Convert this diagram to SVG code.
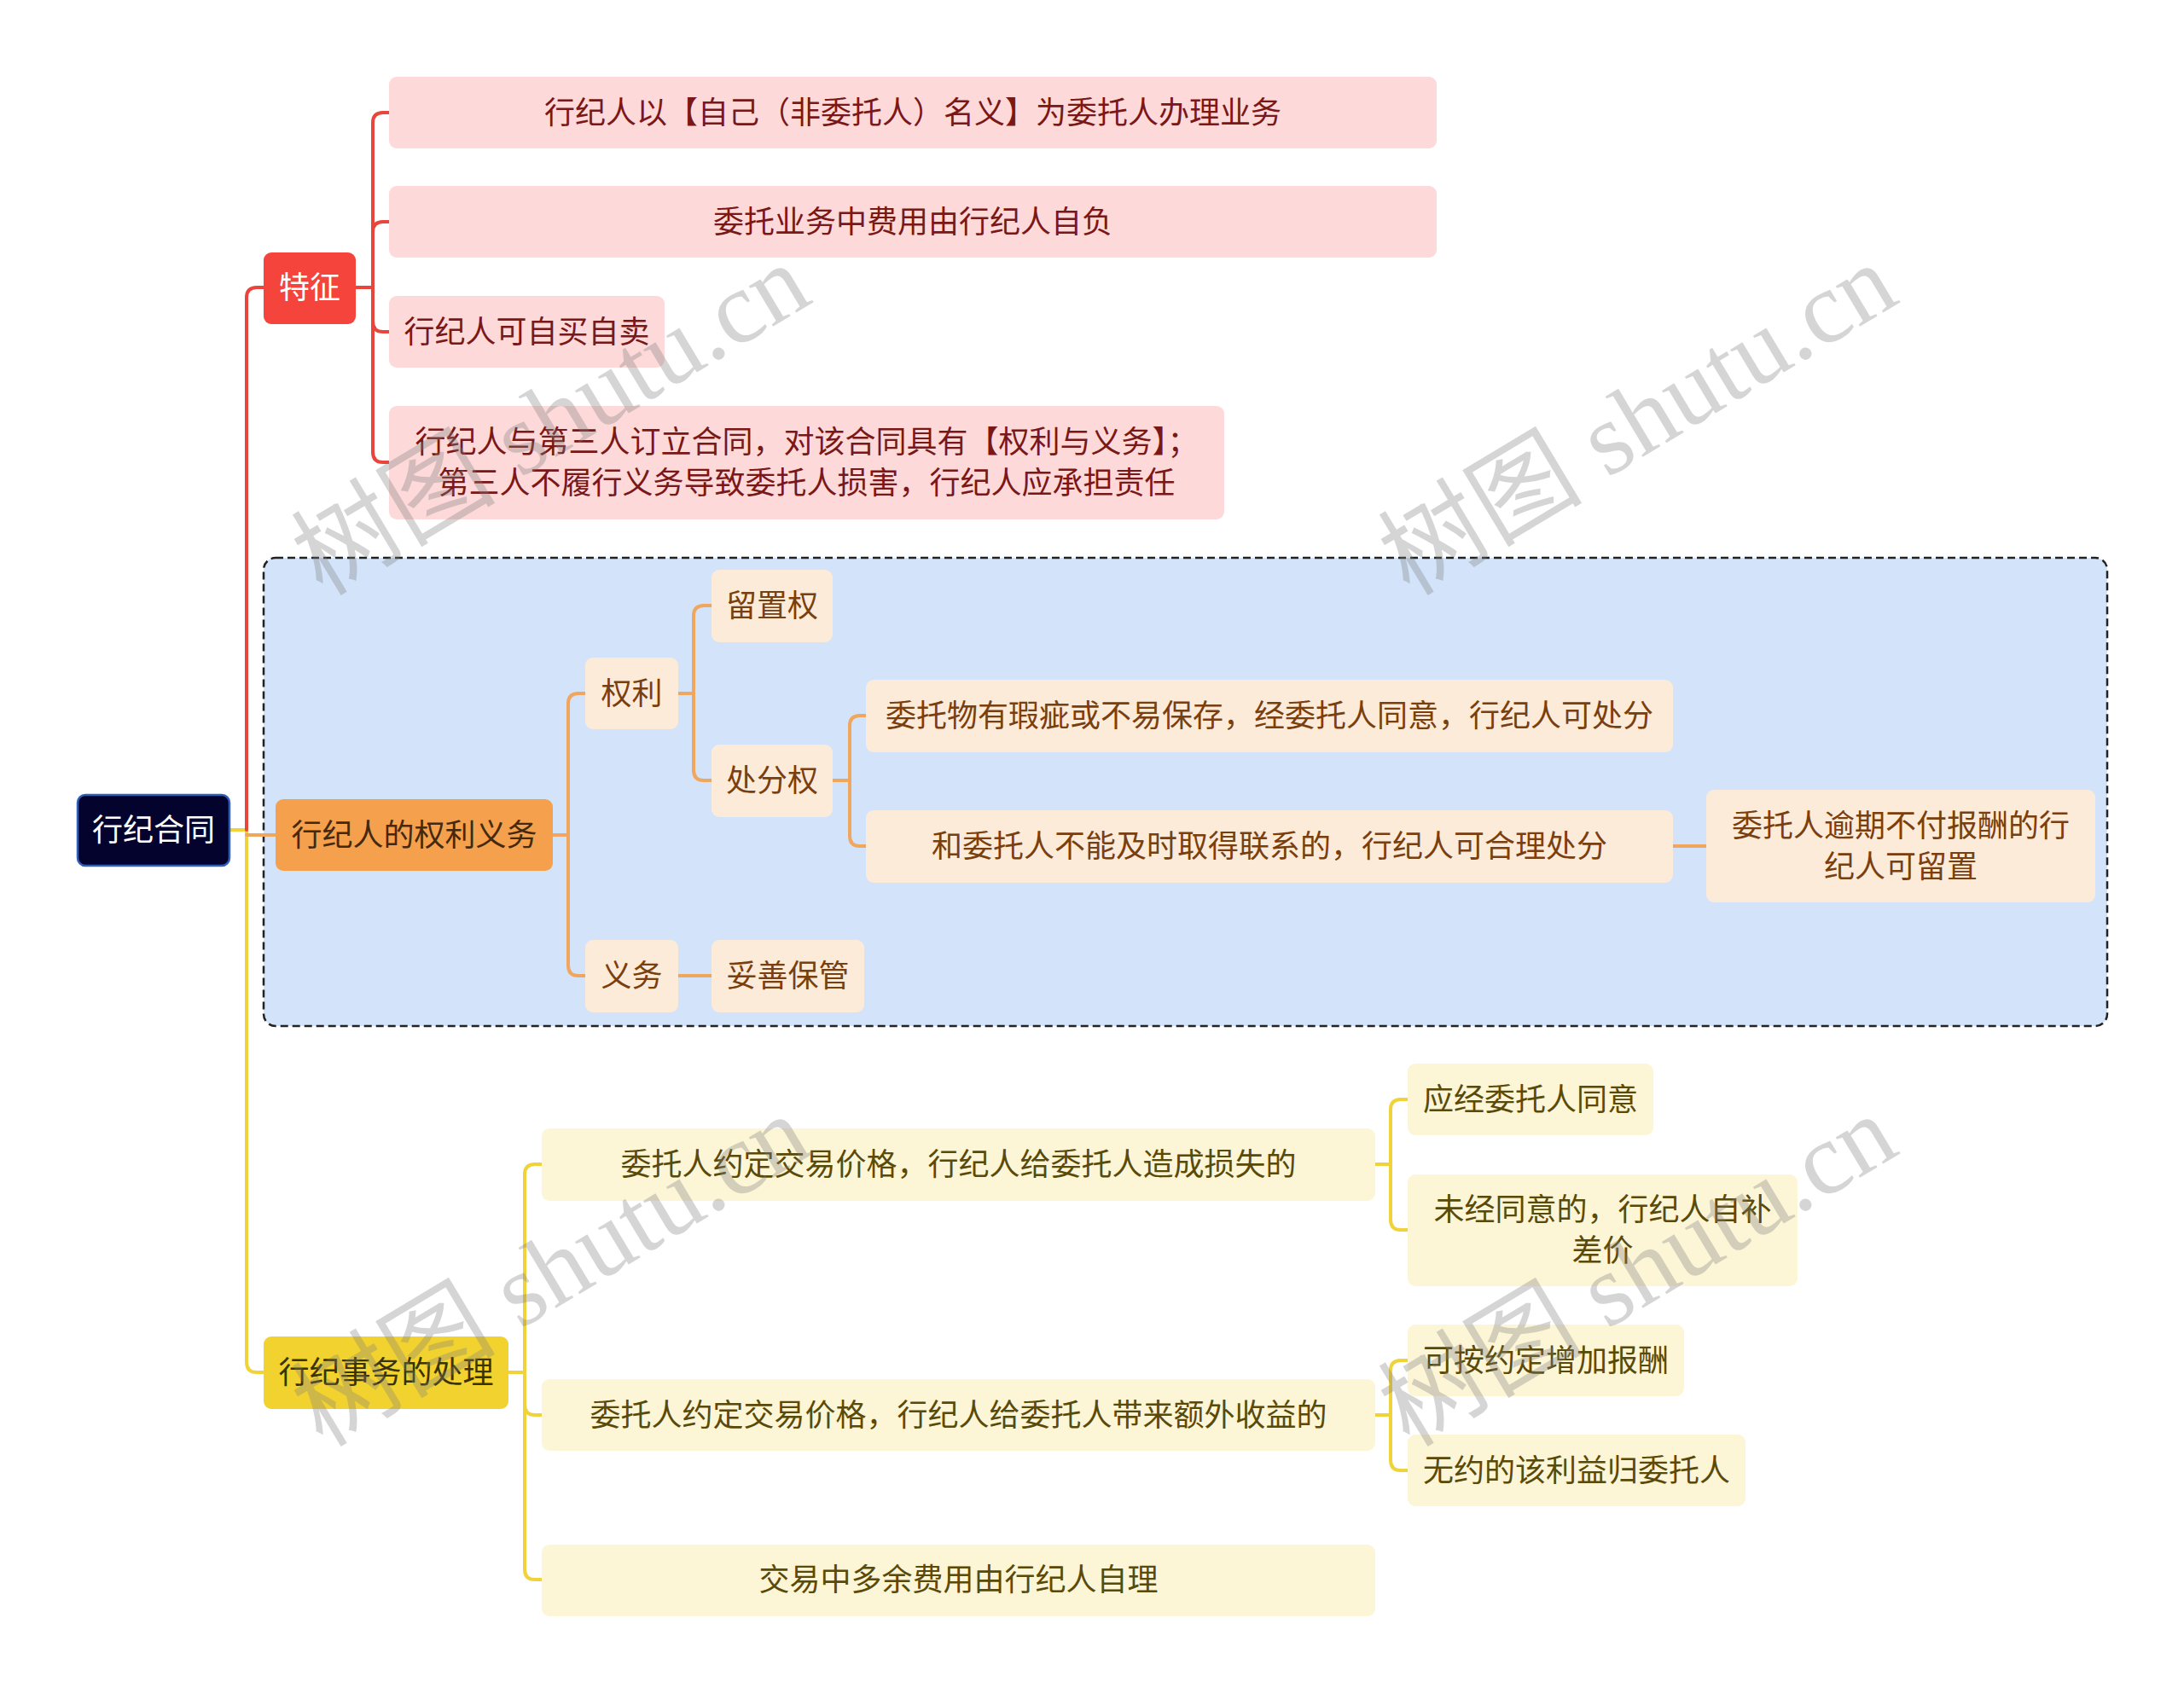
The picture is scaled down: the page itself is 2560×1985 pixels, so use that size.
<svg xmlns="http://www.w3.org/2000/svg" width="2560" height="1985" viewBox="0 0 2560 1985">
<style>
text{font-family:"Noto Sans CJK SC","Liberation Sans",sans-serif;font-size:36px;text-anchor:middle}
.c{fill:none;stroke-width:4;stroke-linecap:round;stroke-linejoin:round}
.cr{stroke:#e8463d}.co{stroke:#f0a65c}.cy{stroke:#f0d23a}
.pink rect{fill:#fdd9d9}.pink text{fill:#7a1717}
.peach rect{fill:#fdebd9}.peach text{fill:#7a3f0e}
.ly rect{fill:#fcf5d6}.ly text{fill:#5a4a08}
.wm{font-family:"Liberation Serif","Noto Sans CJK SC",serif;font-size:120px;fill:#808080;fill-opacity:0.33;text-anchor:start}
</style>
<rect width="2560" height="1985" fill="#ffffff"/>
<rect x="309" y="654" width="2161" height="549" rx="14" fill="#d3e3fa" stroke="#222" stroke-width="2.5" stroke-dasharray="9,5"/>
<g id="connectors">
<path class="c cy" d="M270,973 H289 V1597 Q289,1609 301,1609 H309"/>
<path class="c cr" d="M289,973 V349 Q289,337 301,337 H309"/>
<path class="c co" d="M289,979 H323"/>
<path class="c cr" d="M417,337 H437"/>
<path class="c cr" d="M437,337 V144 Q437,132 449,132 H456"/>
<path class="c cr" d="M437,337 V272 Q437,260 449,260 H456"/>
<path class="c cr" d="M437,337 V377 Q437,389 449,389 H456"/>
<path class="c cr" d="M437,337 V530 Q437,542 449,542 H456"/>
<path class="c co" d="M648,979 H666"/>
<path class="c co" d="M666,979 V825 Q666,813 678,813 H686"/>
<path class="c co" d="M666,979 V1132 Q666,1144 678,1144 H686"/>
<path class="c co" d="M795,813 H813"/>
<path class="c co" d="M813,813 V722 Q813,710 825,710 H834"/>
<path class="c co" d="M813,813 V903 Q813,915 825,915 H834"/>
<path class="c co" d="M795,1144 H834"/>
<path class="c co" d="M976,915 H996"/>
<path class="c co" d="M996,915 V851 Q996,839 1008,839 H1015"/>
<path class="c co" d="M996,915 V980 Q996,992 1008,992 H1015"/>
<path class="c co" d="M1961,992 H2000"/>
<path class="c cy" d="M596,1609 H615"/>
<path class="c cy" d="M615,1609 V1377 Q615,1365 627,1365 H635"/>
<path class="c cy" d="M615,1609 V1647 Q615,1659 627,1659 H635"/>
<path class="c cy" d="M615,1609 V1840 Q615,1852 627,1852 H635"/>
<path class="c cy" d="M1612,1365 H1630"/>
<path class="c cy" d="M1630,1365 V1301 Q1630,1289 1642,1289 H1650"/>
<path class="c cy" d="M1630,1365 V1430 Q1630,1442 1642,1442 H1650"/>
<path class="c cy" d="M1612,1659 H1630"/>
<path class="c cy" d="M1630,1659 V1607 Q1630,1595 1642,1595 H1650"/>
<path class="c cy" d="M1630,1659 V1712 Q1630,1724 1642,1724 H1650"/>
</g>
<g id="root"><rect x="91" y="932" width="178" height="83" rx="9" fill="#03032e" stroke="#2f5fb8" stroke-width="2.5"/><text x="180" y="986" fill="#ffffff">行纪合同</text></g>
<g id="tezheng"><rect x="309" y="296" width="108" height="84" rx="9" fill="#f5443b"/><text x="363" y="350" fill="#ffffff">特征</text></g>
<g id="f1" class="pink"><rect x="456" y="90" width="1228" height="84" rx="9"/><text x="1070" y="145">行纪人以【自己（非委托人）名义】为委托人办理业务</text></g>
<g id="f2" class="pink"><rect x="456" y="218" width="1228" height="84" rx="9"/><text x="1070" y="273">委托业务中费用由行纪人自负</text></g>
<g id="f3" class="pink"><rect x="456" y="347" width="323" height="84" rx="9"/><text x="617.5" y="402">行纪人可自买自卖</text></g>
<g id="f4" class="pink"><rect x="456" y="476" width="979" height="133" rx="9"/><text x="945.5" y="531">行纪人与第三人订立合同，对该合同具有【权利与义务】；</text><text x="945.5" y="579">第三人不履行义务导致委托人损害，行纪人应承担责任</text></g>
<g id="quanliyiwu"><rect x="323" y="937" width="325" height="84" rx="9" fill="#f5a04c"/><text x="485.5" y="992" fill="#45290f">行纪人的权利义务</text></g>
<g id="quanli" class="peach"><rect x="686" y="771" width="109" height="84" rx="9"/><text x="740.5" y="826">权利</text></g>
<g id="liuzhi" class="peach"><rect x="834" y="668" width="142" height="85" rx="9"/><text x="905" y="723">留置权</text></g>
<g id="chufen" class="peach"><rect x="834" y="873" width="142" height="85" rx="9"/><text x="905" y="928">处分权</text></g>
<g id="yiwu" class="peach"><rect x="686" y="1102" width="109" height="85" rx="9"/><text x="740.5" y="1157">义务</text></g>
<g id="tuoshan" class="peach"><rect x="834" y="1102" width="179" height="85" rx="9"/><text x="923.5" y="1157">妥善保管</text></g>
<g id="cf1" class="peach"><rect x="1015" y="797" width="946" height="85" rx="9"/><text x="1488" y="852">委托物有瑕疵或不易保存，经委托人同意，行纪人可处分</text></g>
<g id="cf2" class="peach"><rect x="1015" y="950" width="946" height="85" rx="9"/><text x="1488" y="1005">和委托人不能及时取得联系的，行纪人可合理处分</text></g>
<g id="cf3" class="peach"><rect x="2000" y="926" width="456" height="132" rx="9"/><text x="2228" y="981">委托人逾期不付报酬的行</text><text x="2228" y="1029">纪人可留置</text></g>
<g id="shiwu"><rect x="309" y="1567" width="287" height="85" rx="9" fill="#f2d22e"/><text x="452.5" y="1622" fill="#3a3306">行纪事务的处理</text></g>
<g id="y1" class="ly"><rect x="635" y="1323" width="977" height="85" rx="9"/><text x="1123.5" y="1378">委托人约定交易价格，行纪人给委托人造成损失的</text></g>
<g id="y2" class="ly"><rect x="635" y="1617" width="977" height="84" rx="9"/><text x="1123.5" y="1672">委托人约定交易价格，行纪人给委托人带来额外收益的</text></g>
<g id="y3" class="ly"><rect x="635" y="1811" width="977" height="84" rx="9"/><text x="1123.5" y="1865">交易中多余费用由行纪人自理</text></g>
<g id="y11" class="ly"><rect x="1650" y="1247" width="288" height="84" rx="9"/><text x="1794" y="1302">应经委托人同意</text></g>
<g id="y12" class="ly"><rect x="1650" y="1377" width="457" height="131" rx="9"/><text x="1878.5" y="1431">未经同意的，行纪人自补</text><text x="1878.5" y="1479">差价</text></g>
<g id="y21" class="ly"><rect x="1650" y="1553" width="324" height="84" rx="9"/><text x="1812" y="1608">可按约定增加报酬</text></g>
<g id="y22" class="ly"><rect x="1650" y="1682" width="396" height="84" rx="9"/><text x="1848" y="1737">无约的该利益归委托人</text></g>
<g id="watermarks">
<text class="wm" transform="translate(378,700) rotate(-31)">树图 shutu.cn</text>
<text class="wm" transform="translate(1652,700) rotate(-31)">树图 shutu.cn</text>
<text class="wm" transform="translate(378,1698) rotate(-31)">树图 shutu.cn</text>
<text class="wm" transform="translate(1652,1698) rotate(-31)">树图 shutu.cn</text>
</g>
</svg>
